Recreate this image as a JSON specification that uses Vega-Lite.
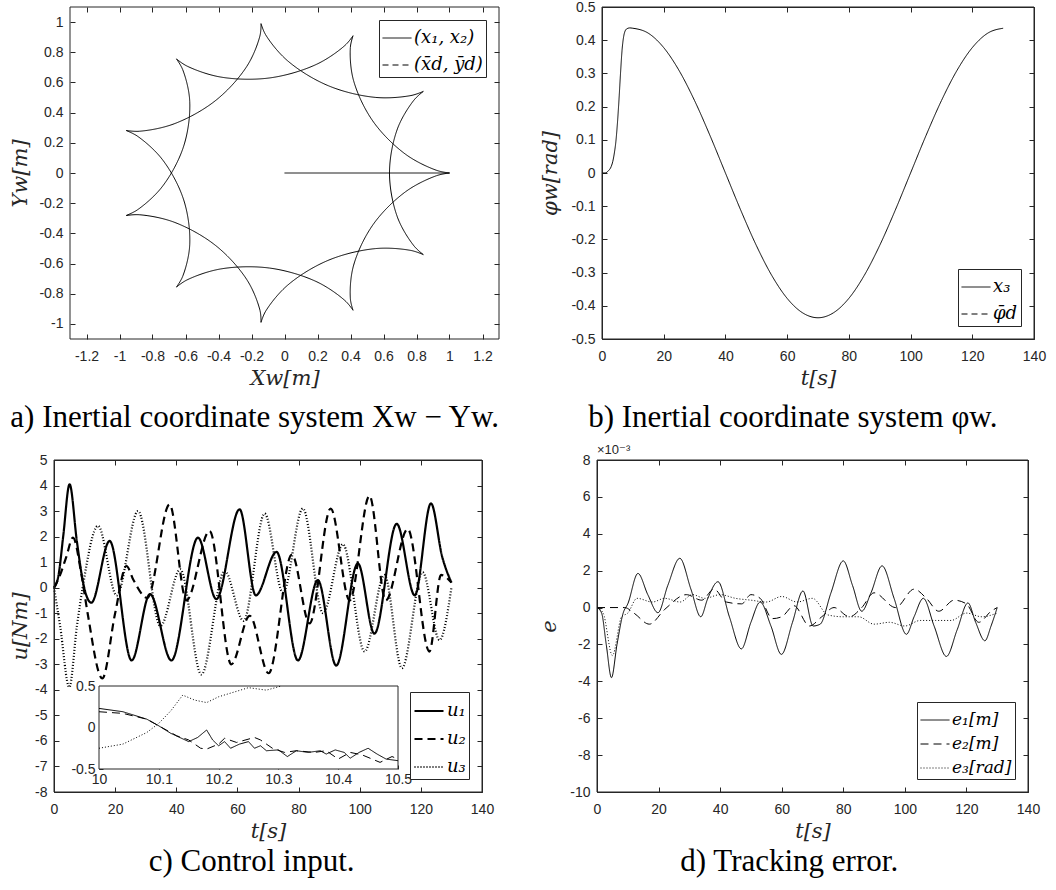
{
  "$schema": "https://vega.github.io/schema/vega-lite/v6.json",
  "background": "white",
  "padding": {"left": 9, "top": -1, "right": 0, "bottom": 0},
  "config": {
    "view": {"stroke": "#262626", "strokeWidth": 1},
    "axis": {"domain": false, "grid": false, "tickSize": -5, "tickColor": "#262626", "tickWidth": 1, "labelFont": "Liberation Sans", "labelFontSize": 14, "labelColor": "#262626", "labelOverlap": false, "labelFlush": false, "titleFont": "DejaVu Serif", "titleFontStyle": "italic", "titleFontWeight": "normal", "titleFontSize": 21, "titleColor": "#262626"},
    "axisX": {"labelPadding": 15, "titlePadding": 4},
    "axisY": {"labelPadding": 12},
    "legend": {"strokeColor": "#262626", "fillColor": "white", "padding": 3, "offset": 13, "labelFont": "DejaVu Serif", "labelFontStyle": "italic", "labelFontSize": 18, "labelColor": "black", "symbolType": "stroke", "symbolSize": 841, "symbolStrokeWidth": 1, "symbolStrokeColor": "black", "rowPadding": 3, "labelOffset": 2},
    "title": {"font": "Liberation Serif", "fontSize": 31, "fontWeight": "normal", "color": "black", "orient": "bottom", "offset": 6, "anchor": "middle", "frame": "bounds"}
  },
  "datasets": {
    "traj": [
      {"g":"L","i":0,"x":0,"y":0},{"g":"L","i":1,"x":1,"y":0},
      {"g":"a0","i":0,"x":1,"y":0},{"g":"a0","i":1,"x":0.9225,"y":0.0174},{"g":"a0","i":2,"x":0.7337,"y":0.1242},{"g":"a0","i":3,"x":0.5354,"y":0.3441},{"g":"a0","i":4,"x":0.4178,"y":0.6158},{"g":"a0","i":5,"x":0.3991,"y":0.8319},{"g":"a0","i":6,"x":0.4154,"y":0.9096},
      {"g":"a1","i":0,"x":0.4154,"y":0.9096},{"g":"a1","i":1,"x":0.3674,"y":0.8464},{"g":"a1","i":2,"x":0.1918,"y":0.719},{"g":"a1","i":3,"x":-0.0906,"y":0.6299},{"g":"a1","i":4,"x":-0.3866,"y":0.6358},{"g":"a1","i":5,"x":-0.591,"y":0.7086},{"g":"a1","i":6,"x":-0.6549,"y":0.7558},
      {"g":"a2","i":0,"x":-0.6549,"y":0.7558},{"g":"a2","i":1,"x":-0.6173,"y":0.6858},{"g":"a2","i":2,"x":-0.5743,"y":0.4731},{"g":"a2","i":3,"x":-0.6106,"y":0.1793},{"g":"a2","i":4,"x":-0.7389,"y":-0.0875},{"g":"a2","i":5,"x":-0.8901,"y":-0.2432},{"g":"a2","i":6,"x":-0.9595,"y":-0.2817},
      {"g":"a3","i":0,"x":-0.9595,"y":-0.2817},{"g":"a3","i":1,"x":-0.8803,"y":-0.2766},{"g":"a3","i":2,"x":-0.669,"y":-0.3259},{"g":"a3","i":3,"x":-0.4168,"y":-0.481},{"g":"a3","i":4,"x":-0.2273,"y":-0.7085},{"g":"a3","i":5,"x":-0.1485,"y":-0.9107},{"g":"a3","i":6,"x":-0.1423,"y":-0.9898},
      {"g":"a4","i":0,"x":-0.1423,"y":-0.9898},{"g":"a4","i":1,"x":-0.1141,"y":-0.9156},{"g":"a4","i":2,"x":0.0185,"y":-0.7439},{"g":"a4","i":3,"x":0.2644,"y":-0.5789},{"g":"a4","i":4,"x":0.55,"y":-0.5011},{"g":"a4","i":5,"x":0.7667,"y":-0.5134},{"g":"a4","i":6,"x":0.8413,"y":-0.5406},
      {"g":"a5","i":0,"x":0.8413,"y":-0.5406},{"g":"a5","i":1,"x":0.7855,"y":-0.4841},{"g":"a5","i":2,"x":0.6843,"y":-0.2922},{"g":"a5","i":3,"x":0.6364,"y":0},{"g":"a5","i":4,"x":0.6843,"y":0.2922},{"g":"a5","i":5,"x":0.7855,"y":0.4841},{"g":"a5","i":6,"x":0.8413,"y":0.5406},
      {"g":"a6","i":0,"x":0.8413,"y":0.5406},{"g":"a6","i":1,"x":0.7667,"y":0.5134},{"g":"a6","i":2,"x":0.55,"y":0.5011},{"g":"a6","i":3,"x":0.2644,"y":0.5789},{"g":"a6","i":4,"x":0.0185,"y":0.7439},{"g":"a6","i":5,"x":-0.1141,"y":0.9156},{"g":"a6","i":6,"x":-0.1423,"y":0.9898},
      {"g":"a7","i":0,"x":-0.1423,"y":0.9898},{"g":"a7","i":1,"x":-0.1485,"y":0.9107},{"g":"a7","i":2,"x":-0.2273,"y":0.7085},{"g":"a7","i":3,"x":-0.4168,"y":0.481},{"g":"a7","i":4,"x":-0.669,"y":0.3259},{"g":"a7","i":5,"x":-0.8803,"y":0.2766},{"g":"a7","i":6,"x":-0.9595,"y":0.2817},
      {"g":"a8","i":0,"x":-0.9595,"y":0.2817},{"g":"a8","i":1,"x":-0.8901,"y":0.2432},{"g":"a8","i":2,"x":-0.7389,"y":0.0875},{"g":"a8","i":3,"x":-0.6106,"y":-0.1793},{"g":"a8","i":4,"x":-0.5743,"y":-0.4731},{"g":"a8","i":5,"x":-0.6173,"y":-0.6858},{"g":"a8","i":6,"x":-0.6549,"y":-0.7558},
      {"g":"a9","i":0,"x":-0.6549,"y":-0.7558},{"g":"a9","i":1,"x":-0.591,"y":-0.7086},{"g":"a9","i":2,"x":-0.3866,"y":-0.6358},{"g":"a9","i":3,"x":-0.0906,"y":-0.6299},{"g":"a9","i":4,"x":0.1918,"y":-0.719},{"g":"a9","i":5,"x":0.3674,"y":-0.8464},{"g":"a9","i":6,"x":0.4154,"y":-0.9096},
      {"g":"a10","i":0,"x":0.4154,"y":-0.9096},{"g":"a10","i":1,"x":0.3991,"y":-0.8319},{"g":"a10","i":2,"x":0.4178,"y":-0.6158},{"g":"a10","i":3,"x":0.5354,"y":-0.3441},{"g":"a10","i":4,"x":0.7337,"y":-0.1242},{"g":"a10","i":5,"x":0.9225,"y":-0.0174},{"g":"a10","i":6,"x":1,"y":0}
    ],
    "phi": [
      {"t":0,"v":0},{"t":1,"v":0},{"t":2,"v":0.006},{"t":3,"v":0.02},{"t":3.5,"v":0.035},{"t":4,"v":0.06},{"t":4.5,"v":0.095},{"t":5,"v":0.15},{"t":5.5,"v":0.22},{"t":6,"v":0.3},{"t":6.5,"v":0.37},{"t":7,"v":0.41},{"t":7.5,"v":0.428},{"t":8,"v":0.434},{"t":9,"v":0.437},{"t":10,"v":0.436},
      {"t":15,"v":0.4211},{"t":20,"v":0.3776},{"t":25,"v":0.3083},{"t":30,"v":0.218},{"t":35,"v":0.1128},{"t":40,"v":0},{"t":45,"v":-0.1128},{"t":50,"v":-0.218},{"t":55,"v":-0.3083},{"t":60,"v":-0.3776},{"t":65,"v":-0.4211},{"t":70,"v":-0.436},{"t":75,"v":-0.4211},{"t":80,"v":-0.3776},{"t":85,"v":-0.3083},{"t":90,"v":-0.218},{"t":95,"v":-0.1128},{"t":100,"v":0},{"t":105,"v":0.1128},{"t":110,"v":0.218},{"t":115,"v":0.3083},{"t":120,"v":0.3776},{"t":125,"v":0.4211},{"t":130,"v":0.436}
    ],
    "u": [
      {"s":"u₁","t":0,"v":0},{"s":"u₁","t":1.5,"v":0.5},{"s":"u₁","t":3,"v":2.0},{"s":"u₁","t":5.1,"v":4.05},{"s":"u₁","t":7.5,"v":1.8},{"s":"u₁","t":9.6,"v":0.15},{"s":"u₁","t":12.2,"v":-0.59},{"s":"u₁","t":18.2,"v":1.83},{"s":"u₁","t":25.4,"v":-2.85},{"s":"u₁","t":31.4,"v":-0.25},{"s":"u₁","t":38.4,"v":-2.85},{"s":"u₁","t":47.1,"v":1.96},{"s":"u₁","t":53.1,"v":-0.45},{"s":"u₁","t":60.7,"v":3.07},{"s":"u₁","t":66,"v":-0.3},{"s":"u₁","t":72.8,"v":1.4},{"s":"u₁","t":79.8,"v":-2.85},{"s":"u₁","t":86.3,"v":0.3},{"s":"u₁","t":92.3,"v":-3.05},{"s":"u₁","t":99.4,"v":0.95},{"s":"u₁","t":104.8,"v":-1.8},{"s":"u₁","t":112.1,"v":2.5},{"s":"u₁","t":118,"v":-0.3},{"s":"u₁","t":123.3,"v":3.3},{"s":"u₁","t":127,"v":1.2},{"s":"u₁","t":130,"v":0.2},
      {"s":"u₂","t":0,"v":0},{"s":"u₂","t":2,"v":0.5},{"s":"u₂","t":4,"v":1.2},{"s":"u₂","t":6.2,"v":1.96},{"s":"u₂","t":9,"v":0.5},{"s":"u₂","t":11,"v":-1.0},{"s":"u₂","t":15.8,"v":-3.55},{"s":"u₂","t":20,"v":-1.0},{"s":"u₂","t":23.7,"v":0.85},{"s":"u₂","t":26,"v":0.3},{"s":"u₂","t":30.5,"v":-0.4},{"s":"u₂","t":37.8,"v":3.26},{"s":"u₂","t":43.3,"v":-0.5},{"s":"u₂","t":50.9,"v":2.22},{"s":"u₂","t":58,"v":-3.0},{"s":"u₂","t":64,"v":-1.1},{"s":"u₂","t":70.2,"v":-3.35},{"s":"u₂","t":77.8,"v":1.3},{"s":"u₂","t":83.6,"v":-1.4},{"s":"u₂","t":90.5,"v":3.1},{"s":"u₂","t":96.7,"v":-0.5},{"s":"u₂","t":103.2,"v":3.6},{"s":"u₂","t":108.5,"v":-0.5},{"s":"u₂","t":115.7,"v":2.3},{"s":"u₂","t":122.8,"v":-2.5},{"s":"u₂","t":126.6,"v":0.5},{"s":"u₂","t":130,"v":0.2},
      {"s":"u₃","t":0,"v":0},{"s":"u₃","t":2,"v":-1.5},{"s":"u₃","t":5,"v":-3.9},{"s":"u₃","t":7.5,"v":-1.5},{"s":"u₃","t":9.5,"v":0.1},{"s":"u₃","t":14.4,"v":2.42},{"s":"u₃","t":20.5,"v":-0.3},{"s":"u₃","t":27.5,"v":3.0},{"s":"u₃","t":34.8,"v":-1.5},{"s":"u₃","t":41.3,"v":0.72},{"s":"u₃","t":48.2,"v":-3.4},{"s":"u₃","t":55.8,"v":0.66},{"s":"u₃","t":62,"v":-1.3},{"s":"u₃","t":68.9,"v":2.9},{"s":"u₃","t":74.9,"v":-0.2},{"s":"u₃","t":81.4,"v":3.1},{"s":"u₃","t":88,"v":-1.0},{"s":"u₃","t":94.5,"v":1.7},{"s":"u₃","t":101.6,"v":-2.5},{"s":"u₃","t":108.1,"v":0.5},{"s":"u₃","t":113.8,"v":-3.15},{"s":"u₃","t":120.6,"v":0.6},{"s":"u₃","t":126.1,"v":-2.05},{"s":"u₃","t":130,"v":0}
    ],
    "uz": [
      {"s":"u₁","t":10,"v":0.23},{"s":"u₁","t":10.04,"v":0.19},{"s":"u₁","t":10.08,"v":0.1},{"s":"u₁","t":10.1,"v":0.02},{"s":"u₁","t":10.12,"v":-0.07},{"s":"u₁","t":10.15,"v":-0.17},{"s":"u₁","t":10.165,"v":-0.12},{"s":"u₁","t":10.18,"v":-0.03},{"s":"u₁","t":10.19,"v":-0.15},{"s":"u₁","t":10.2,"v":-0.22},{"s":"u₁","t":10.21,"v":-0.17},{"s":"u₁","t":10.22,"v":-0.25},{"s":"u₁","t":10.235,"v":-0.2},{"s":"u₁","t":10.25,"v":-0.17},{"s":"u₁","t":10.26,"v":-0.25},{"s":"u₁","t":10.27,"v":-0.22},{"s":"u₁","t":10.28,"v":-0.28},{"s":"u₁","t":10.3,"v":-0.27},{"s":"u₁","t":10.315,"v":-0.35},{"s":"u₁","t":10.33,"v":-0.28},{"s":"u₁","t":10.35,"v":-0.3},{"s":"u₁","t":10.37,"v":-0.28},{"s":"u₁","t":10.38,"v":-0.32},{"s":"u₁","t":10.395,"v":-0.27},{"s":"u₁","t":10.41,"v":-0.3},{"s":"u₁","t":10.42,"v":-0.37},{"s":"u₁","t":10.435,"v":-0.3},{"s":"u₁","t":10.45,"v":-0.25},{"s":"u₁","t":10.465,"v":-0.32},{"s":"u₁","t":10.48,"v":-0.38},{"s":"u₁","t":10.5,"v":-0.4},
      {"s":"u₂","t":10,"v":0.19},{"s":"u₂","t":10.04,"v":0.17},{"s":"u₂","t":10.08,"v":0.1},{"s":"u₂","t":10.1,"v":0.02},{"s":"u₂","t":10.13,"v":-0.1},{"s":"u₂","t":10.15,"v":-0.15},{"s":"u₂","t":10.17,"v":-0.25},{"s":"u₂","t":10.18,"v":-0.26},{"s":"u₂","t":10.2,"v":-0.2},{"s":"u₂","t":10.21,"v":-0.13},{"s":"u₂","t":10.23,"v":-0.18},{"s":"u₂","t":10.26,"v":-0.12},{"s":"u₂","t":10.27,"v":-0.15},{"s":"u₂","t":10.29,"v":-0.25},{"s":"u₂","t":10.31,"v":-0.3},{"s":"u₂","t":10.33,"v":-0.28},{"s":"u₂","t":10.36,"v":-0.3},{"s":"u₂","t":10.38,"v":-0.28},{"s":"u₂","t":10.4,"v":-0.38},{"s":"u₂","t":10.42,"v":-0.3},{"s":"u₂","t":10.44,"v":-0.33},{"s":"u₂","t":10.47,"v":-0.42},{"s":"u₂","t":10.49,"v":-0.35},{"s":"u₂","t":10.5,"v":-0.38},
      {"s":"u₃","t":10,"v":-0.25},{"s":"u₃","t":10.04,"v":-0.2},{"s":"u₃","t":10.08,"v":-0.06},{"s":"u₃","t":10.1,"v":0.05},{"s":"u₃","t":10.12,"v":0.2},{"s":"u₃","t":10.14,"v":0.39},{"s":"u₃","t":10.16,"v":0.33},{"s":"u₃","t":10.18,"v":0.3},{"s":"u₃","t":10.2,"v":0.37},{"s":"u₃","t":10.25,"v":0.48},{"s":"u₃","t":10.28,"v":0.45},{"s":"u₃","t":10.305,"v":0.5}
    ],
    "e": [
      {"s":"e₁[m]","t":0,"v":0},{"s":"e₁[m]","t":1.5,"v":-0.3},{"s":"e₁[m]","t":3,"v":-2.0},{"s":"e₁[m]","t":4.7,"v":-3.8},{"s":"e₁[m]","t":6.5,"v":-2.0},{"s":"e₁[m]","t":8.5,"v":-0.3},{"s":"e₁[m]","t":10,"v":0.2},{"s":"e₁[m]","t":13.3,"v":1.85},{"s":"e₁[m]","t":16.5,"v":0.7},{"s":"e₁[m]","t":19.8,"v":-0.28},{"s":"e₁[m]","t":23,"v":1.2},{"s":"e₁[m]","t":26.9,"v":2.67},{"s":"e₁[m]","t":30.5,"v":1.0},{"s":"e₁[m]","t":33.7,"v":-0.5},{"s":"e₁[m]","t":36,"v":0.5},{"s":"e₁[m]","t":39.3,"v":1.4},{"s":"e₁[m]","t":43,"v":-0.5},{"s":"e₁[m]","t":46.9,"v":-2.24},{"s":"e₁[m]","t":50,"v":-0.8},{"s":"e₁[m]","t":53,"v":0.3},{"s":"e₁[m]","t":56.5,"v":-1.0},{"s":"e₁[m]","t":59.9,"v":-2.54},{"s":"e₁[m]","t":63.5,"v":-0.8},{"s":"e₁[m]","t":66.9,"v":0.9},{"s":"e₁[m]","t":70.2,"v":-1.0},{"s":"e₁[m]","t":72.5,"v":-0.9},{"s":"e₁[m]","t":76,"v":0.8},{"s":"e₁[m]","t":80,"v":2.53},{"s":"e₁[m]","t":83,"v":1.2},{"s":"e₁[m]","t":86,"v":-0.2},{"s":"e₁[m]","t":89,"v":0.8},{"s":"e₁[m]","t":92.6,"v":2.26},{"s":"e₁[m]","t":96.5,"v":0.5},{"s":"e₁[m]","t":100.5,"v":-1.45},{"s":"e₁[m]","t":103,"v":-0.5},{"s":"e₁[m]","t":106,"v":0.5},{"s":"e₁[m]","t":109.5,"v":-1.0},{"s":"e₁[m]","t":113.5,"v":-2.65},{"s":"e₁[m]","t":117,"v":-1.2},{"s":"e₁[m]","t":120.5,"v":0.25},{"s":"e₁[m]","t":123,"v":-0.8},{"s":"e₁[m]","t":126,"v":-1.8},{"s":"e₁[m]","t":128,"v":-1.0},{"s":"e₁[m]","t":130,"v":0},
      {"s":"e₂[m]","t":0,"v":0},{"s":"e₂[m]","t":9,"v":0},{"s":"e₂[m]","t":12,"v":-0.3},{"s":"e₂[m]","t":17,"v":-0.9},{"s":"e₂[m]","t":22,"v":-0.1},{"s":"e₂[m]","t":29,"v":0.7},{"s":"e₂[m]","t":34,"v":0.4},{"s":"e₂[m]","t":38,"v":1.0},{"s":"e₂[m]","t":42,"v":0.3},{"s":"e₂[m]","t":47,"v":0.2},{"s":"e₂[m]","t":50,"v":0.7},{"s":"e₂[m]","t":53,"v":0.5},{"s":"e₂[m]","t":57,"v":-0.6},{"s":"e₂[m]","t":60,"v":-0.5},{"s":"e₂[m]","t":64,"v":0.1},{"s":"e₂[m]","t":69,"v":-1.0},{"s":"e₂[m]","t":73,"v":-0.5},{"s":"e₂[m]","t":77,"v":0},{"s":"e₂[m]","t":82,"v":-0.5},{"s":"e₂[m]","t":86,"v":0},{"s":"e₂[m]","t":90,"v":0.8},{"s":"e₂[m]","t":97,"v":0},{"s":"e₂[m]","t":103,"v":1.0},{"s":"e₂[m]","t":107,"v":0.5},{"s":"e₂[m]","t":111,"v":-0.2},{"s":"e₂[m]","t":116,"v":0.4},{"s":"e₂[m]","t":120,"v":0.2},{"s":"e₂[m]","t":124,"v":-0.8},{"s":"e₂[m]","t":128,"v":-0.2},{"s":"e₂[m]","t":130,"v":0},
      {"s":"e₃[rad]","t":0,"v":0},{"s":"e₃[rad]","t":2,"v":-0.3},{"s":"e₃[rad]","t":5,"v":-2.6},{"s":"e₃[rad]","t":8,"v":-0.5},{"s":"e₃[rad]","t":10,"v":-0.3},{"s":"e₃[rad]","t":13,"v":0.5},{"s":"e₃[rad]","t":18,"v":0.3},{"s":"e₃[rad]","t":22,"v":0.5},{"s":"e₃[rad]","t":27,"v":0.3},{"s":"e₃[rad]","t":31,"v":0.7},{"s":"e₃[rad]","t":35,"v":0.5},{"s":"e₃[rad]","t":40,"v":0.7},{"s":"e₃[rad]","t":45,"v":0.5},{"s":"e₃[rad]","t":50,"v":0.4},{"s":"e₃[rad]","t":55,"v":0.3},{"s":"e₃[rad]","t":60,"v":0.6},{"s":"e₃[rad]","t":65,"v":0.3},{"s":"e₃[rad]","t":70,"v":0.5},{"s":"e₃[rad]","t":75,"v":-0.4},{"s":"e₃[rad]","t":80,"v":-0.5},{"s":"e₃[rad]","t":85,"v":-0.5},{"s":"e₃[rad]","t":90,"v":-0.9},{"s":"e₃[rad]","t":95,"v":-0.8},{"s":"e₃[rad]","t":100,"v":-1.0},{"s":"e₃[rad]","t":105,"v":-0.7},{"s":"e₃[rad]","t":110,"v":-0.7},{"s":"e₃[rad]","t":115,"v":-0.7},{"s":"e₃[rad]","t":120,"v":-0.3},{"s":"e₃[rad]","t":125,"v":-0.5},{"s":"e₃[rad]","t":130,"v":-0.3}
    ]
  },
  "spacing": 9,
  "columns": 1,
  "align": "none",
  "resolve": {"scale": {"strokeDash": "independent", "strokeWidth": "independent"}, "legend": {"strokeDash": "independent"}},
  "concat": [
    {
      "bounds": "flush",
      "spacing": 103,
      "resolve": {"scale": {"strokeDash": "independent"}, "legend": {"strokeDash": "independent"}},
      "hconcat": [
        {
          "width": 445, "height": 332,
          "view": {"stroke": null},
          "title": {"text": "a) Inertial coordinate system Xw − Yw.", "offset": 15},
          "layer": [
            {
              "data": {"values": [{}]},
              "mark": {"type": "rect", "fillOpacity": 0, "stroke": "#262626", "strokeWidth": 1},
              "encoding": {
                "x": {"datum": -1.3, "type": "quantitative", "scale": {"domain": [-1.3, 1.3], "range": [16, 445], "nice": false, "zero": false}, "axis": {"orient": "top", "labels": false, "title": null, "values": [-1.2,-1,-0.8,-0.6,-0.4,-0.2,0,0.2,0.4,0.6,0.8,1,1.2]}},
                "x2": {"datum": 1.3},
                "y": {"datum": -1.1, "type": "quantitative", "scale": {"domain": [-1.1, 1.1], "nice": false, "zero": false}, "axis": {"orient": "right", "labels": false, "title": null, "values": [-1,-0.8,-0.6,-0.4,-0.2,0,0.2,0.4,0.6,0.8,1]}},
                "y2": {"datum": 1.1}
              }
            },
            {
              "data": {"name": "traj"},
              "mark": {"type": "line", "interpolate": "catmull-rom", "strokeWidth": 1, "color": "black"},
              "encoding": {
                "x": {"field": "x", "type": "quantitative", "axis": {"title": "Xw[m]", "orient": "bottom", "values": [-1.2,-1,-0.8,-0.6,-0.4,-0.2,0,0.2,0.4,0.6,0.8,1,1.2], "labelExpr": "toString(datum.value)"}},
                "y": {"field": "y", "type": "quantitative", "axis": {"title": "Yw[m]", "orient": "left", "offset": -16, "titlePadding": 8, "values": [-1,-0.8,-0.6,-0.4,-0.2,0,0.2,0.4,0.6,0.8,1], "labelExpr": "toString(datum.value)"}},
                "detail": {"field": "g"},
                "order": {"field": "i", "type": "quantitative"},
                "strokeDash": {"datum": "(x₁, x₂)", "type": "nominal", "scale": {"domain": ["(x₁, x₂)", "(x̄d, ȳd)"], "range": [[1, 0], [6, 4]]}, "legend": {"title": null, "orient": "top-right"}}
              }
            }
          ],
          "resolve": {"axis": {"x": "independent", "y": "independent"}}
        },
        {
          "width": 432, "height": 332,
          "title": {"text": "b) Inertial coordinate system φw.", "offset": 15},
          "layer": [
            {
              "data": {"name": "phi"},
              "mark": {"type": "line", "interpolate": "monotone", "strokeWidth": 1, "color": "black"},
              "encoding": {
                "x": {"field": "t", "type": "quantitative", "scale": {"domain": [0, 140], "nice": false}, "axis": {"title": "t[s]", "orient": "bottom", "values": [0,20,40,60,80,100,120,140]}},
                "y": {"field": "v", "type": "quantitative", "scale": {"domain": [-0.5, 0.5], "nice": false, "zero": false}, "axis": {"title": "φw[rad]", "orient": "left", "titlePadding": 10, "values": [-0.5,-0.4,-0.3,-0.2,-0.1,0,0.1,0.2,0.3,0.4,0.5], "labelExpr": "toString(datum.value)"}},
                "strokeDash": {"datum": "x₃", "type": "nominal", "scale": {"domain": ["x₃", "φ̄d"], "range": [[1, 0], [6, 4]]}, "legend": {"title": null, "orient": "bottom-right"}}
              }
            },
            {
              "data": {"values": [{}]},
              "mark": {"type": "rect", "fillOpacity": 0, "stroke": "#262626", "strokeWidth": 1},
              "encoding": {
                "x": {"datum": 0, "type": "quantitative", "axis": {"orient": "top", "labels": false, "title": null, "values": [0,20,40,60,80,100,120,140]}},
                "x2": {"datum": 140},
                "y": {"datum": -0.5, "type": "quantitative", "axis": {"orient": "right", "labels": false, "title": null, "values": [-0.5,-0.4,-0.3,-0.2,-0.1,0,0.1,0.2,0.3,0.4,0.5]}},
                "y2": {"datum": 0.5}
              }
            }
          ],
          "resolve": {"axis": {"x": "independent", "y": "independent"}}
        }
      ]
    },
    {
      "bounds": "flush",
      "spacing": 115,
      "resolve": {"scale": {"strokeDash": "independent", "strokeWidth": "independent"}, "legend": {"strokeDash": "independent"}},
      "hconcat": [
        {
          "width": 428, "height": 332,
          "title": {"text": "c) Control input."},
          "layer": [
            {
              "layer": [
                {
                  "data": {"name": "u"},
                  "mark": {"type": "line", "interpolate": "monotone", "color": "black"},
                  "encoding": {
                    "x": {"field": "t", "type": "quantitative", "scale": {"domain": [0, 140], "nice": false}, "axis": {"title": "t[s]", "orient": "bottom", "values": [0,20,40,60,80,100,120,140]}},
                    "y": {"field": "v", "type": "quantitative", "scale": {"domain": [-8, 5], "nice": false, "zero": false}, "axis": {"title": "u[Nm]", "orient": "left", "titlePadding": 4, "labelOverlap": false, "values": [-8,-7,-6,-5,-4,-3,-2,-1,0,1,2,3,4,5], "labelExpr": "toString(datum.value)"}},
                    "strokeDash": {"field": "s", "type": "nominal", "scale": {"domain": ["u₁", "u₂", "u₃"], "range": [[1, 0], [8, 5], [1, 2]]}, "legend": {"title": null, "orient": "bottom-right", "encode": {"symbols": {"update": {"strokeWidth": {"value": 1}}}}}},
                    "strokeWidth": {"field": "s", "type": "nominal", "scale": {"domain": ["u₁", "u₂", "u₃"], "range": [2.2, 2.2, 1]}, "legend": null}
                  }
                },
                {
                  "data": {"values": [{}]},
                  "mark": {"type": "rect", "fillOpacity": 0, "stroke": "#262626", "strokeWidth": 1},
                  "encoding": {
                    "x": {"datum": 0, "type": "quantitative", "axis": {"orient": "top", "labels": false, "title": null, "values": [0,20,40,60,80,100,120,140]}},
                    "x2": {"datum": 140},
                    "y": {"datum": -8, "type": "quantitative", "axis": {"orient": "right", "labels": false, "title": null, "values": [-8,-7,-6,-5,-4,-3,-2,-1,0,1,2,3,4,5]}},
                    "y2": {"datum": 5}
                  }
                }
              ],
              "resolve": {"axis": {"x": "independent", "y": "independent"}}
            },
            {
              "layer": [
                {
                  "data": {"values": [{}]},
                  "mark": {"type": "rect", "fill": "white", "stroke": "#262626", "strokeWidth": 1},
                  "encoding": {
                    "x": {"datum": 10, "type": "quantitative", "scale": {"domain": [10, 10.5], "range": [45, 344], "nice": false, "zero": false}, "axis": {"title": null, "orient": "bottom", "offset": -23, "tickSize": -4, "labelPadding": 7, "values": [10, 10.1, 10.2, 10.3, 10.4, 10.5], "labelExpr": "toString(datum.value)"}},
                    "x2": {"datum": 10.5},
                    "y": {"datum": -0.5, "type": "quantitative", "scale": {"domain": [-0.5, 0.5], "range": [309, 226], "nice": false, "zero": false}, "axis": {"title": null, "orient": "left", "offset": -45, "tickSize": -4, "labelPadding": 8, "labelOverlap": false, "values": [-0.5, 0, 0.5], "labelExpr": "toString(datum.value)"}},
                    "y2": {"datum": 0.5}
                  }
                },
                {
                  "data": {"name": "uz"},
                  "mark": {"type": "line", "strokeWidth": 1, "color": "black"},
                  "encoding": {
                    "x": {"field": "t", "type": "quantitative", "axis": {"title": null, "orient": "bottom", "offset": -23, "tickSize": -4, "labelPadding": 7, "values": [10, 10.1, 10.2, 10.3, 10.4, 10.5], "labelExpr": "toString(datum.value)"}},
                    "y": {"field": "v", "type": "quantitative", "axis": {"title": null, "orient": "left", "offset": -45, "tickSize": -4, "labelPadding": 8, "labelOverlap": false, "values": [-0.5, 0, 0.5], "labelExpr": "toString(datum.value)"}},
                    "strokeDash": {"field": "s", "type": "nominal"}
                  }
                }
              ]
            }
          ],
          "resolve": {"scale": {"x": "independent", "y": "independent"}}
        },
        {
          "width": 431, "height": 332,
          "title": {"text": "d) Tracking error."},
          "layer": [
            {
              "data": {"name": "e"},
              "mark": {"type": "line", "interpolate": "monotone", "strokeWidth": 1, "color": "black"},
              "encoding": {
                "x": {"field": "t", "type": "quantitative", "scale": {"domain": [0, 140], "nice": false}, "axis": {"title": "t[s]", "orient": "bottom", "values": [0,20,40,60,80,100,120,140]}},
                "y": {"field": "v", "type": "quantitative", "scale": {"domain": [-10, 8], "nice": false, "zero": false}, "axis": {"title": "e", "orient": "left", "titlePadding": 10, "labelOverlap": false, "values": [-10,-8,-6,-4,-2,0,2,4,6,8], "labelExpr": "toString(datum.value)"}},
                "strokeDash": {"field": "s", "type": "nominal", "scale": {"domain": ["e₁[m]", "e₂[m]", "e₃[rad]"], "range": [[1, 0], [8, 5], [1, 2]]}, "legend": {"title": null, "orient": "bottom-right", "rowPadding": 1, "labelFontSize": 17}}
              }
            },
            {
              "data": {"values": [{}]},
              "mark": {"type": "text", "text": "×10⁻³", "align": "left", "baseline": "bottom", "dy": -3, "font": "Liberation Sans, DejaVu Sans", "fontSize": 13, "color": "#262626"},
              "encoding": {
                "x": {"datum": 0, "type": "quantitative", "axis": null},
                "y": {"datum": 8, "type": "quantitative", "axis": null}
              }
            },
            {
              "data": {"values": [{}]},
              "mark": {"type": "rect", "fillOpacity": 0, "stroke": "#262626", "strokeWidth": 1},
              "encoding": {
                "x": {"datum": 0, "type": "quantitative", "axis": {"orient": "top", "labels": false, "title": null, "values": [0,20,40,60,80,100,120,140]}},
                "x2": {"datum": 140},
                "y": {"datum": -10, "type": "quantitative", "axis": {"orient": "right", "labels": false, "title": null, "values": [-10,-8,-6,-4,-2,0,2,4,6,8]}},
                "y2": {"datum": 8}
              }
            }
          ],
          "resolve": {"axis": {"x": "independent", "y": "independent"}}
        }
      ]
    }
  ]
}
